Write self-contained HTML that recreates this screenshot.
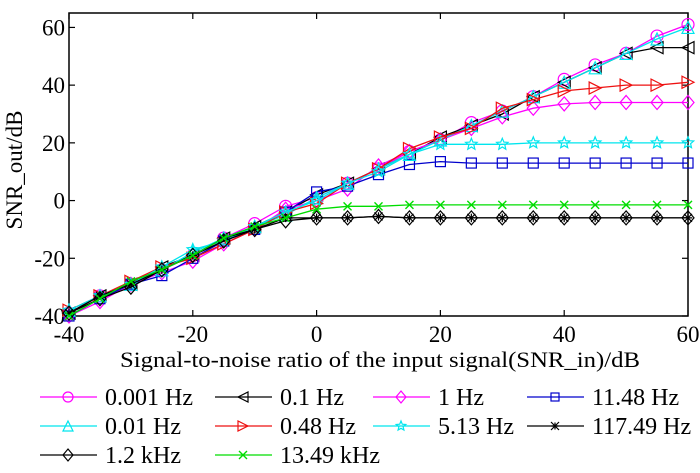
<!DOCTYPE html>
<html><head><meta charset="utf-8"><style>
html,body{margin:0;padding:0;background:#fff;}
svg{display:block;font-family:"Liberation Serif",serif;}
</style></head><body>
<svg id="chart" width="700" height="473" viewBox="0 0 700 473" xmlns="http://www.w3.org/2000/svg"></svg>
<script>
const xValues=[-40,-35,-30,-25,-20,-15,-10,-5,0,5,10,15,20,25,30,35,40,45,50,55,60];
const xTicks=[-40,-20,0,20,40,60];
const yTicks=[-40,-20,0,20,40,60];
const seriesNames=["0.001 Hz","0.1 Hz","1 Hz","11.48 Hz","0.01 Hz","0.48 Hz","5.13 Hz","117.49 Hz","1.2 kHz","13.49 kHz"];
const s0001=[-39,-33,-29,-24,-19,-13,-8,-2,1,6,11,17,21,27,31,36,42,47,51,57,61];
const s01=[-39,-33,-29,-23,-19,-13,-9,-4,2,6,11,16,22,26,30,36,41,46,51,53,53];
const s1=[-40,-35,-29,-25,-21,-15,-10,-3,0,4,12,17,21,25,29,32,33.5,34,34,34,34];
const s1148=[-40,-34,-29,-26,-20,-14,-10,-4,3,5,9,12.5,13.5,13,13,13,13,13,13,13,13];
const s001=[-38,-33,-29,-24,-18,-13,-9,-5,1,6,11,16,21,26,31,36,41,46,51,56,60];
const s048=[-38,-33,-28,-23,-20,-15,-10,-4,-1,6,11,18,22,25,32,35,38,39,40,40,41];
const s513=[-38,-33,-29,-23,-17,-14,-9,-4,0,6,10,16,19.5,19.5,19.5,20,20,20,20,20,20];
const s11749=[-39,-33,-29,-24,-19,-13,-10,-6,-6,-6,-5.5,-6,-6,-6,-6,-6,-6,-6,-6,-6,-6];
const s12k=[-39,-34,-30,-24,-19,-14,-10,-7,-6,-6,-5.5,-6,-6,-6,-6,-6,-6,-6,-6,-6,-6];
const s1349k=[-40,-34,-28,-24,-19,-13,-9,-6,-3,-2,-2,-1.5,-1.5,-1.5,-1.5,-1.5,-1.5,-1.5,-1.5,-1.5,-1.5];
const seriesValues=[s0001,s01,s1,s1148,s001,s048,s513,s11749,s12k,s1349k];
const colors=["#ff00ff","#000000","#ff00ff","#0000cc","#00e5ee","#ee1111","#00e5ee","#000000","#000000","#00dd00"];
const markers=["circle","triL","diamond","square","triU","triR","star","asterisk","diamond","x"];
const L=69,R=688,T=13,B=316,XMIN=-40,XMAX=60,YMIN=-40,YMAX=65;
const X=v=>L+(v-XMIN)/(XMAX-XMIN)*(R-L);
const Y=v=>B-(v-YMIN)/(YMAX-YMIN)*(B-T);
const svg=document.getElementById('chart');
const NS="http://www.w3.org/2000/svg";
function mk(tag,attrs,parent){const e=document.createElementNS(NS,tag);for(const k in attrs)e.setAttribute(k,attrs[k]);(parent||svg).appendChild(e);return e;}
function marker(type,cx,cy,col,g,sz){
  const s=sz||6;let e;
  if(type==="circle")e=mk('circle',{cx,cy,r:s,fill:'none',stroke:col,'stroke-width':1.2},g);
  else if(type==="square")e=mk('rect',{x:cx-s+1,y:cy-s+1,width:2*s-2,height:2*s-2,fill:'none',stroke:col,'stroke-width':1.2},g);
  else if(type==="diamond")e=mk('polygon',{points:`${cx},${cy-s-1} ${cx+s},${cy} ${cx},${cy+s+1} ${cx-s},${cy}`,fill:'none',stroke:col,'stroke-width':1.2},g);
  else if(type==="triL")e=mk('polygon',{points:`${cx-s},${cy} ${cx+s},${cy-s} ${cx+s},${cy+s}`,fill:'none',stroke:col,'stroke-width':1.2},g);
  else if(type==="triR")e=mk('polygon',{points:`${cx+s},${cy} ${cx-s},${cy-s} ${cx-s},${cy+s}`,fill:'none',stroke:col,'stroke-width':1.2},g);
  else if(type==="triU")e=mk('polygon',{points:`${cx},${cy-s} ${cx+s},${cy+s} ${cx-s},${cy+s}`,fill:'none',stroke:col,'stroke-width':1.2},g);
  else if(type==="star"){let p=[];for(let i=0;i<10;i++){const r=i%2?s*0.45:s;const a=-Math.PI/2+i*Math.PI/5;p.push((cx+r*Math.cos(a)).toFixed(1)+","+(cy+r*Math.sin(a)).toFixed(1));}e=mk('polygon',{points:p.join(' '),fill:'none',stroke:col,'stroke-width':1.2},g);}
  else if(type==="asterisk"){e=mk('path',{d:`M${cx-s*0.7},${cy}H${cx+s*0.7}M${cx},${cy-s*0.7}V${cy+s*0.7}M${cx-4},${cy-4}L${cx+4},${cy+4}M${cx-4},${cy+4}L${cx+4},${cy-4}`,stroke:col,'stroke-width':1.2},g);}
  else if(type==="x"){e=mk('path',{d:`M${cx-4},${cy-4}L${cx+4},${cy+4}M${cx-4},${cy+4}L${cx+4},${cy-4}`,stroke:col,'stroke-width':1.4},g);}
  return e;
}
const box=mk('rect',{x:L,y:T,width:R-L,height:B-T,fill:'none',stroke:'#000','stroke-width':1.5});


xTicks.forEach(t=>{
  const x=X(t);
  mk('line',{x1:x,y1:B,x2:x,y2:B-6,stroke:'#000','stroke-width':1.2});
  mk('line',{x1:x,y1:T,x2:x,y2:T+6,stroke:'#000','stroke-width':1.2});
  const tx=mk('text',{x:x,y:342,'font-size':23,'text-anchor':'middle'});tx.textContent=t;
  
  
});
yTicks.forEach(t=>{
  const y=Y(t);
  mk('line',{x1:L,y1:y,x2:L+6,y2:y,stroke:'#000','stroke-width':1.2});
  mk('line',{x1:R,y1:y,x2:R-6,y2:y,stroke:'#000','stroke-width':1.2});
  const ty=mk('text',{x:L-4,y:y+8,'font-size':23,'text-anchor':'end'});ty.textContent=t;
  
  
});
const xt=mk('text',{x:120,y:367,'font-size':22,textLength:520,lengthAdjust:'spacingAndGlyphs'});xt.textContent="Signal-to-noise ratio of the input signal(SNR_in)/dB";


const yt=mk('text',{x:0,y:0,'font-size':23,'text-anchor':'middle',transform:'translate(22,170) rotate(-90)'});yt.textContent="SNR_out/dB";


seriesValues.forEach((vals,i)=>{
  const g=mk('g',{});
  
  
  const pts=vals.map((v,j)=>X(xValues[j]).toFixed(1)+","+Y(v).toFixed(1)).join(' ');
  mk('polyline',{points:pts,fill:'none',stroke:colors[i],'stroke-width':1.3},g);
  vals.forEach((v,j)=>marker(markers[i],X(xValues[j]),Y(v),colors[i],g));
});
const colX=[40,215,373,527];
const rowY=[397,426,455];
seriesNames.forEach((n,i)=>{
  const r=Math.floor(i/4),c=i%4;
  const g=mk('g',{});
  
  
  const x0=colX[c],y0=rowY[r];
  mk('line',{x1:x0,y1:y0,x2:x0+57,y2:y0,stroke:colors[i],'stroke-width':1.3},g);
  marker(markers[i],x0+28,y0,colors[i],g,5);
  const t=mk('text',{x:x0+65,y:y0+8,'font-size':24},g);t.textContent=n;
});
</script>
</body></html>
